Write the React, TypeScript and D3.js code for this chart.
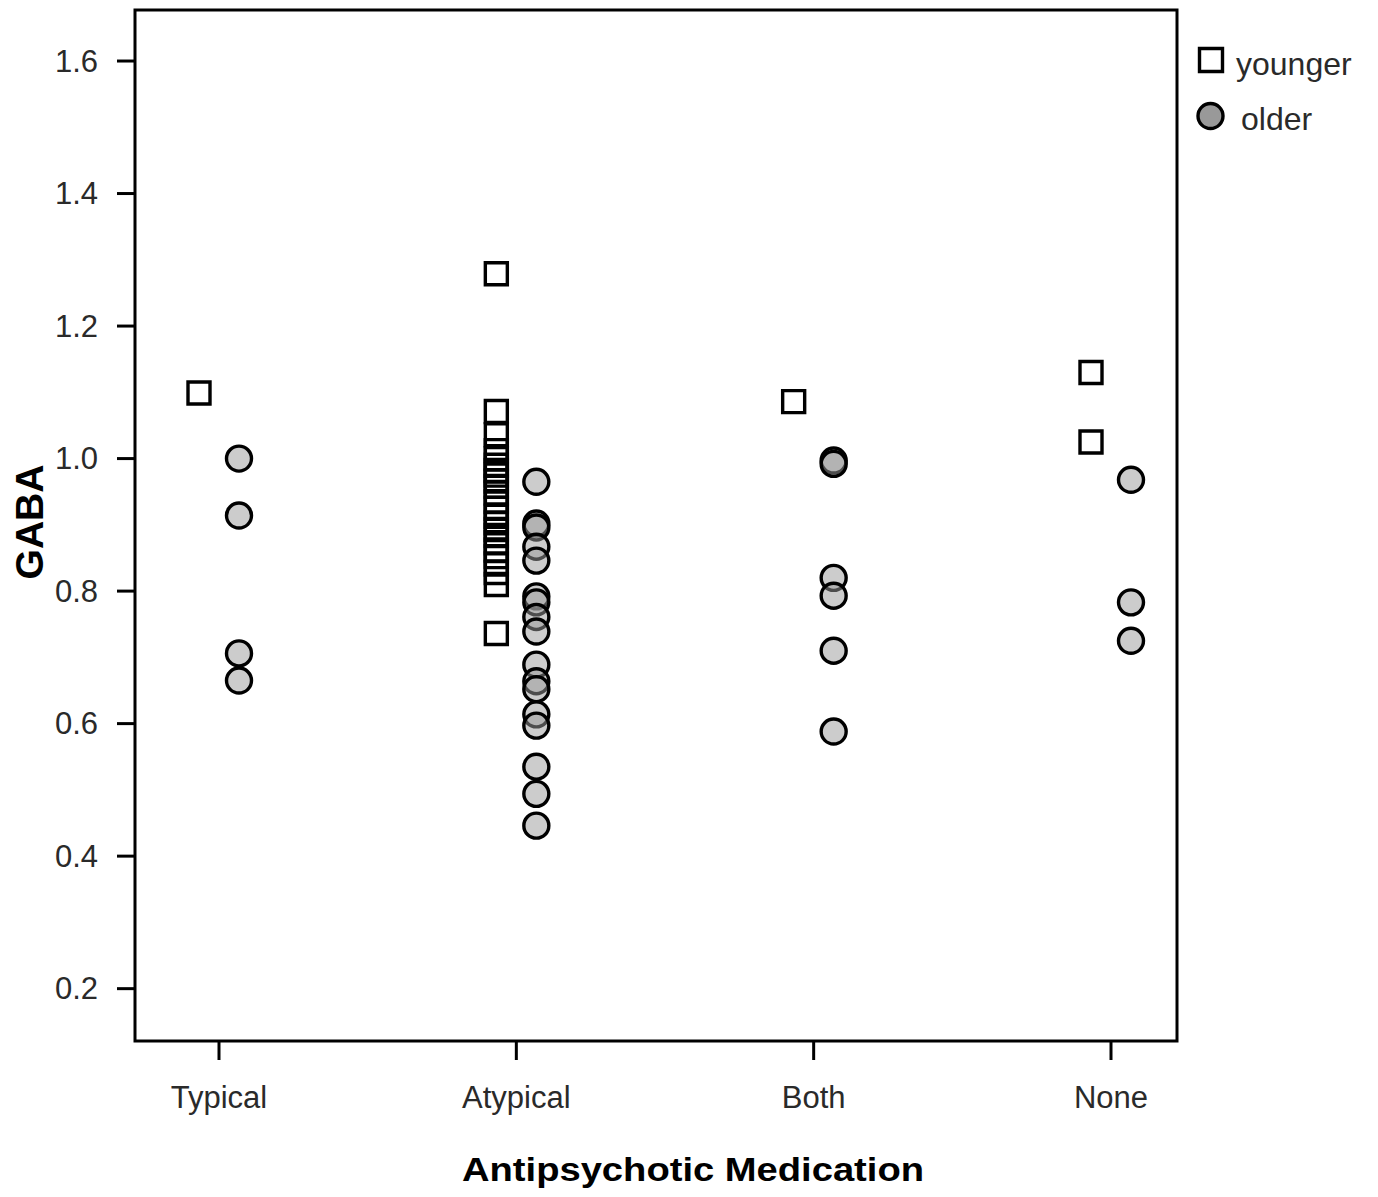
import React from "react";
import * as d3 from "d3";

const categories = ["Typical", "Atypical", "Both", "None"];
const groups = ["younger", "older"];

const youngerTypical = [1.099];
const youngerAtypical = [
  1.279, 1.071, 1.036, 1.012, 1.0, 0.99, 0.982, 0.975, 0.966, 0.958, 0.948,
  0.935, 0.925, 0.913, 0.903, 0.893, 0.884, 0.873, 0.862, 0.852, 0.841, 0.828,
  0.81, 0.736,
];
const youngerBoth = [1.086];
const youngerNone = [1.13, 1.025];

const olderTypical = [1.0, 0.914, 0.706, 0.665];
const olderAtypical = [
  0.965, 0.902, 0.896, 0.867, 0.846, 0.792, 0.783, 0.761, 0.739, 0.689, 0.664,
  0.652, 0.614, 0.597, 0.535, 0.494, 0.446,
];
const olderBoth = [0.997, 0.992, 0.82, 0.793, 0.71, 0.588];
const olderNone = [0.968, 0.783, 0.725];

const yTicks = [0.2, 0.4, 0.6, 0.8, 1.0, 1.2, 1.4, 1.6];

const youngerSeries = [youngerTypical, youngerAtypical, youngerBoth, youngerNone];
const olderSeries = [olderTypical, olderAtypical, olderBoth, olderNone];

const W = 1378;
const H = 1197;
const frame = { left: 135, top: 10, right: 1177, bottom: 1041 };
const FONT = "'Liberation Sans', Arial, sans-serif";

export default function App() {
  const x = d3.scalePoint<string>().domain(categories).range([219, 1111]).padding(0);
  const dodge = d3.scalePoint<string>().domain(groups).range([-20, 20]);
  const y = d3.scaleLinear().domain([0.121, 1.677]).range([frame.bottom, frame.top]);

  const squarePath = d3.symbol(d3.symbolSquare, 22 * 22)()!;
  const legendSquarePath = d3.symbol(d3.symbolSquare, 23 * 23)()!;
  const circlePath = d3.symbol(d3.symbolCircle, Math.PI * 12.5 * 12.5)()!;
  const legendCirclePath = d3.symbol(d3.symbolCircle, Math.PI * 12.5 * 12.5)()!;

  const youngerPts = categories.flatMap((c, i) =>
    youngerSeries[i].map((v) => ({ cx: x(c)! + dodge("younger")!, cy: y(v) }))
  );
  const olderPts = categories.flatMap((c, i) =>
    olderSeries[i].map((v) => ({ cx: x(c)! + dodge("older")!, cy: y(v) }))
  );

  return (
    <svg
      width={W}
      height={H}
      style={{ position: "absolute", left: 0, top: 0, background: "#fff" }}
      fontFamily={FONT}
    >
      <rect x={0} y={0} width={W} height={H} fill="#fff" />
      {/* y ticks */}
      {yTicks.map((t) => (
        <g key={t}>
          <line x1={117} x2={frame.left} y1={y(t)} y2={y(t)} stroke="#000" strokeWidth={3} />
          <text
            x={98}
            y={y(t)}
            textAnchor="end"
            dominantBaseline="central"
            fontSize={31}
            fill="#2a2a2a"
          >
            {t.toFixed(1)}
          </text>
        </g>
      ))}
      {/* x ticks */}
      {categories.map((c) => (
        <g key={c}>
          <line x1={x(c)} x2={x(c)} y1={frame.bottom} y2={1060} stroke="#000" strokeWidth={3} />
          <text x={x(c)} y={1108} textAnchor="middle" fontSize={31} fill="#2a2a2a">
            {c}
          </text>
        </g>
      ))}
      {/* points */}
      {olderPts.map((p, i) => (
        <path
          key={"o" + i}
          d={circlePath}
          transform={`translate(${p.cx},${p.cy})`}
          fill="#9a9a9a"
          fillOpacity={0.5}
          stroke="#000"
          strokeWidth={3.4}
        />
      ))}
      {youngerPts.map((p, i) => (
        <path
          key={"y" + i}
          d={squarePath}
          transform={`translate(${p.cx},${p.cy})`}
          fill="none"
          stroke="#000"
          strokeWidth={3.4}
        />
      ))}
      {/* frame */}
      <rect
        x={frame.left}
        y={frame.top}
        width={frame.right - frame.left}
        height={frame.bottom - frame.top}
        fill="none"
        stroke="#000"
        strokeWidth={3}
      />
      {/* axis titles */}
      <text
        x={693}
        y={1181}
        textAnchor="middle"
        fontSize={33}
        fontWeight="bold"
        fill="#000"
        textLength={462}
        lengthAdjust="spacingAndGlyphs"
      >
        Antipsychotic Medication
      </text>
      <text
        transform="translate(43,522) rotate(-90)"
        textAnchor="middle"
        fontSize={39}
        fontWeight="bold"
        fill="#000"
      >
        GABA
      </text>
      {/* legend */}
      <path
        d={legendSquarePath}
        transform="translate(1211,60)"
        fill="#fff"
        stroke="#000"
        strokeWidth={3.4}
      />
      <text x={1236} y={75} fontSize={32} fill="#2a2a2a">
        younger
      </text>
      <path
        d={legendCirclePath}
        transform="translate(1210.5,116)"
        fill="#999"
        stroke="#000"
        strokeWidth={3.4}
      />
      <text x={1241} y={130} fontSize={32} fill="#2a2a2a">
        older
      </text>
    </svg>
  );
}
